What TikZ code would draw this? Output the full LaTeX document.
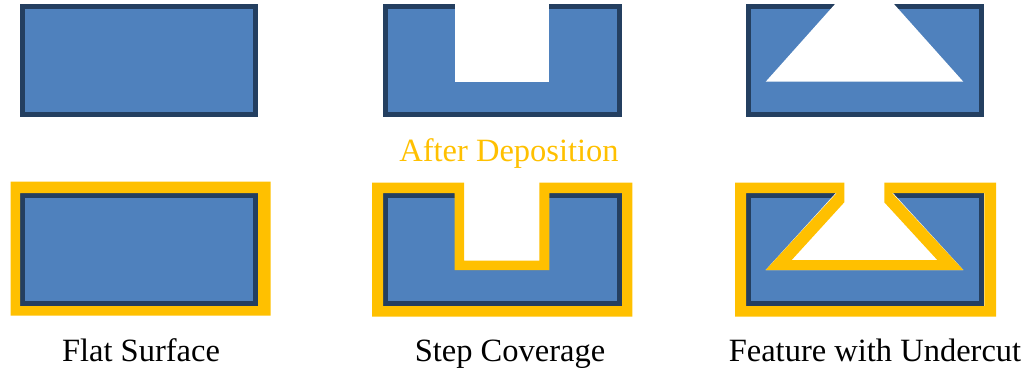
\documentclass[tikz,border=0pt]{standalone}
\usepackage{fontspec}
\setmainfont{Liberation Serif}
\definecolor{subblue}{HTML}{4F81BD}
\definecolor{subedge}{HTML}{243F60}
\definecolor{coatyel}{HTML}{FFC000}
\begin{document}
\begin{tikzpicture}[x=1pt,y=-1pt,
  substrate/.style={fill=subblue, draw=subedge, line width=5.3pt},
  cut/.style={fill=white},
  coat/.style={fill=coatyel, even odd rule},
  lbl/.style={anchor=base, inner sep=0pt, font=\fontsize{32.5}{39}\selectfont}]
\useasboundingbox (0,0) rectangle (1036,372);
% before deposition
\draw[substrate] (22.65,6.65) rectangle (255.35,114.35);
\draw[substrate] (385.65,6.65) rectangle (619.35,114.35);
\fill[cut] (454.7,3) rectangle (549.3,81.7);
\draw[substrate] (748.65,6.65) rectangle (981.65,114.35);
\fill[cut] (836,3) -- (893,3) -- (963.3,81.7) -- (765.7,81.7) -- cycle;
\node[lbl, text=coatyel] (dep) at (509,161) {After Deposition};
% after deposition
\draw[substrate] (22.65,195.65) rectangle (255.35,303.35);
\fill[coat] (10.7,181.7) rectangle (270.7,315.7)
  (20,193) rectangle (258,306);
\draw[substrate] (385.65,195.65) rectangle (619.35,303.35);
\fill[cut] (454.7,192) rectangle (549.3,270);
\fill[coat] (372,182.7) -- (464,182.7) -- (464,260.7) -- (539.3,260.7)
  -- (539.3,182.7) -- (632.3,182.7) -- (632.3,316.7) -- (372,316.7) -- cycle
  (383,193) -- (454.7,193) -- (454.7,270) -- (549.3,270)
  -- (549.3,193) -- (622,193) -- (622,306) -- (383,306) -- cycle;
\draw[substrate] (748.65,195.65) rectangle (981.65,303.35);
\fill[cut] (836.7,192) -- (892,192) -- (963.3,270) -- (765.7,270) -- cycle;
\fill[coat] (735,182.7) -- (844.3,182.7) -- (844.3,202.3) -- (791.7,260)
  -- (937.3,260) -- (884.3,202.3) -- (884.3,182.7) -- (996,182.7)
  -- (996,316.7) -- (735,316.7) -- cycle
  (746,193) -- (836.7,193) -- (765.7,270) -- (963.3,270)
  -- (892,193) -- (984.3,193) -- (984.3,306) -- (746,306) -- cycle;
% labels
\node[lbl] (flat) at (141,361) {Flat Surface};
\node[lbl] (step) at (510,361) {Step Coverage};
\node[lbl] (under) at (875,361) {Feature with Undercut};
\end{tikzpicture}
\end{document}
